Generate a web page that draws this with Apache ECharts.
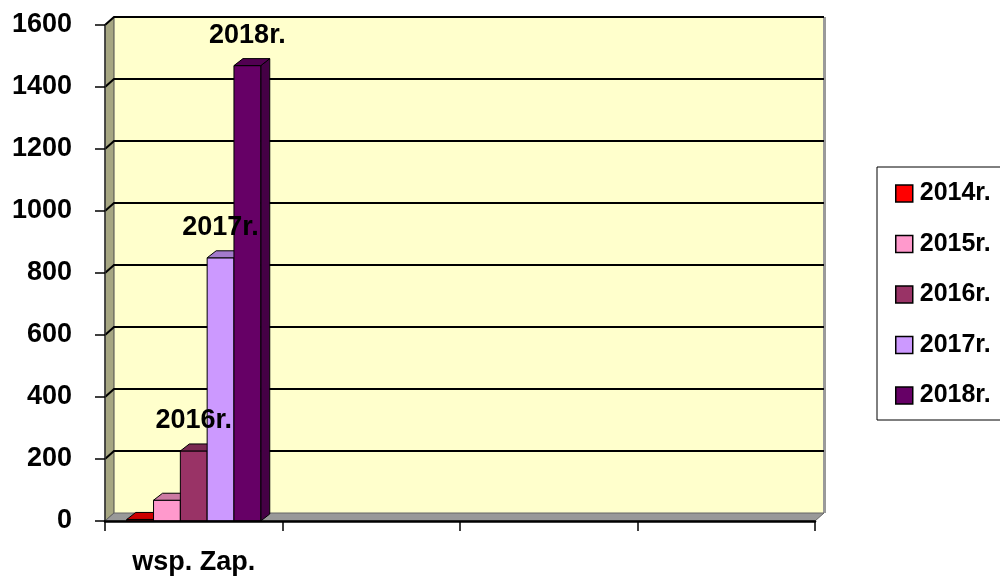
<!DOCTYPE html>
<html><head><meta charset="utf-8">
<script src="https://cdn.jsdelivr.net/npm/echarts@6/dist/echarts.min.js"></script>
<style>html,body{margin:0;padding:0;background:#fff}#c{width:1000px;height:576px}</style>
</head><body><div id="c"></div>
<script>
const categories = ['wsp. Zap.', '', '', ''];
const seriesNames = ['2014r.', '2015r.', '2016r.', '2017r.', '2018r.'];
const v2014 = [5, null, null, null];
const v2015 = [67, null, null, null];
const v2016 = [226, null, null, null];
const v2017 = [849, null, null, null];
const v2018 = [1469, null, null, null];
const yTicks = [0, 200, 400, 600, 800, 1000, 1200, 1400, 1600];
const colors = ['#FF0000', '#FF99CC', '#993366', '#CC99FF', '#660066'];
const labelShown = [false, false, true, true, true];
const allValues = [v2014, v2015, v2016, v2017, v2018];

const FONT = '"Liberation Sans", Arial, sans-serif';
const DX = 9, DY = 8, BDX = 9, BDY = 7;

function shade(hex, f) {
  const n = parseInt(hex.slice(1), 16);
  const r = Math.round(((n >> 16) & 255) * f), g = Math.round(((n >> 8) & 255) * f), b = Math.round((n & 255) * f);
  return 'rgb(' + r + ',' + g + ',' + b + ')';
}

function frameRender(params, api) {
  const cs = params.coordSys;
  const L = cs.x, R = cs.x + cs.width, T = cs.y, B = cs.y + cs.height;
  const ch = [];
  ch.push({type: 'rect', shape: {x: L + DX, y: T - DY, width: cs.width, height: cs.height}, style: {fill: '#FFFFCC'}});
  ch.push({type: 'rect', shape: {x: R + DX - 1, y: T - DY, width: 3, height: cs.height}, style: {fill: '#9a9a9a'}});
  ch.push({type: 'polygon', shape: {points: [[L, T], [L + DX, T - DY], [L + DX, B - DY], [L, B]]}, style: {fill: '#A6A682', stroke: '#4a4a4a', lineWidth: 1}});
  ch.push({type: 'polygon', shape: {points: [[L, B], [L + DX, B - DY], [R + DX, B - DY], [R, B]]}, style: {fill: '#999999', stroke: '#666', lineWidth: 1}});
  yTicks.forEach(function (v) {
    if (v === 0) return;
    const y = api.coord([0, v])[1];
    ch.push({type: 'polyline', shape: {points: [[L, y], [L + DX, y - DY], [R + DX, y - DY]]}, style: {stroke: '#000', lineWidth: 2, fill: null}});
  });
  return {type: 'group', children: ch};
}

function barRender(sIdx) {
  return function (params, api) {
    const cat = api.value(0), val = api.value(1);
    const band = api.size([1, 0])[0];
    const bw = band * 0.151;
    const c = api.coord([cat, val]);
    const b = api.coord([cat, 0]);
    const x0 = c[0] - 2.5 * bw + sIdx * bw;
    const x1 = x0 + bw;
    const top = c[1], base = b[1];
    const col = colors[sIdx];
    const ch = [
      {type: 'polygon', z2: sIdx * 5 + 1, shape: {points: [[x1, top], [x1 + BDX, top - BDY], [x1 + BDX, base - BDY], [x1, base]]}, style: {fill: shade(col, 0.68), stroke: '#000', lineWidth: 1}},
      {type: 'rect', z2: sIdx * 5 + 2, shape: {x: x0, y: top, width: bw, height: base - top}, style: {fill: col, stroke: '#000', lineWidth: 1}},
      {type: 'polygon', z2: sIdx * 5 + 3, shape: {points: [[x0, top], [x0 + BDX, top - BDY], [x1 + BDX, top - BDY], [x1, top]]}, style: {fill: shade(col, 0.8), stroke: '#000', lineWidth: 1}}
    ];
    if (labelShown[sIdx]) {
      ch.push({type: 'text', z2: 100, x: x0 + bw / 2, y: top - 30,
        style: {text: seriesNames[sIdx], fill: '#000', font: 'bold 27px ' + FONT, align: 'center', verticalAlign: 'middle'}});
    }
    return {type: 'group', children: ch};
  };
}

const series = [{
  type: 'custom', name: '__frame', z: 1, silent: true,
  renderItem: frameRender, data: [[0, 0]]
}];
seriesNames.forEach(function (name, i) {
  const data = [];
  allValues[i].forEach(function (v, k) { if (v !== null) data.push([k, v]); });
  series.push({
    type: 'custom', name: name, z: 2, silent: true,
    color: colors[i], itemStyle: {color: colors[i]},
    renderItem: barRender(i), data: data
  });
});

const chart = echarts.init(document.getElementById('c'), null, {renderer: 'canvas'});
chart.setOption({
  animation: false,
  backgroundColor: '#fff',
  grid: {left: 105, right: 185, top: 25, bottom: 54, containLabel: false},
  xAxis: {
    type: 'category', data: categories, z: 5,
    axisLine: {show: true, lineStyle: {color: '#000', width: 2.5}},
    axisTick: {show: true, length: 10, lineStyle: {color: '#000', width: 1.5}},
    axisLabel: {margin: 28, color: '#000', fontWeight: 'bold', fontSize: 27, fontFamily: FONT},
    splitLine: {show: false}
  },
  yAxis: {
    type: 'value', min: 0, max: 1600, interval: 200, z: 5,
    axisLine: {show: true, lineStyle: {color: '#333', width: 1.5}},
    axisTick: {show: true, length: 10, lineStyle: {color: '#000', width: 1.5}},
    axisLabel: {margin: 33, color: '#000', fontWeight: 'bold', fontSize: 27, fontFamily: FONT,
      formatter: function (v) { return String(v); }},
    splitLine: {show: false}
  },
  legend: {
    data: seriesNames, orient: 'vertical', left: 877, top: 167,
    icon: 'rect', itemWidth: 17, itemHeight: 17, itemGap: 25.5,
    borderColor: '#000', borderWidth: 1, padding: [14, 30, 12, 18],
    selectedMode: false,
    itemStyle: {borderColor: '#000', borderWidth: 1.5},
    textStyle: {color: '#000', fontWeight: 'bold', fontSize: 25, fontFamily: FONT, lineHeight: 24, padding: [0, 0, 0, 2]}
  },
  series: series
});
</script>
</body></html>
